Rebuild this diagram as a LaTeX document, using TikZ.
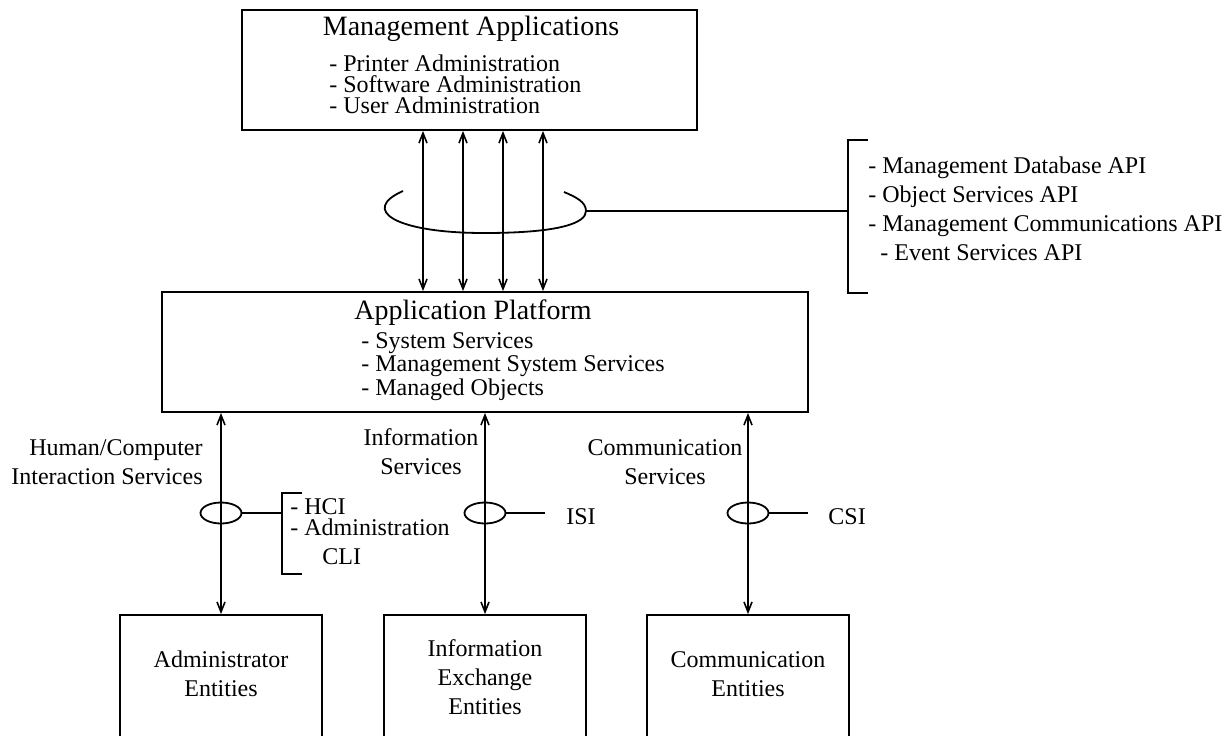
\documentclass[tikz,border=0pt]{standalone}
\usepackage{fontspec}
\setmainfont{Liberation Serif}
\usetikzlibrary{arrows.meta,shapes,positioning}

\begin{document}
\begin{tikzpicture}[
        x=0.5pt, y=-0.5pt,
        box/.style={rectangle, draw=black, line width=0.9pt, inner sep=0pt},
        arrow/.style={{Straight Barb[length=5pt,width=4pt]}-{Straight Barb[length=5pt,width=4pt]}, line width=0.8pt},
        line/.style={line width=0.9pt},
        ring/.style={ellipse, draw=black, line width=0.9pt, minimum width=20.5pt, minimum height=10.5pt, inner sep=0pt},
        title/.style={font=\fontsize{14}{17}\selectfont, inner sep=0pt},
        label/.style={font=\fontsize{12}{14.5}\selectfont, align=center, inner sep=0pt},
        items/.style={font=\fontsize{12}{10.5}\selectfont, align=left, anchor=west, inner sep=0pt}
    ]

    % Page size of the reference, bottom boxes run off the edge
    \useasboundingbox (0,0) rectangle (1232,735);
    \clip (0,0) rectangle (1232,735);

    % Management Applications (top)
    \node[box, minimum width=227.5pt, minimum height=60pt] (mgmt_apps) at (469.5,70) {};
    \node[title] (mgmt_title) at (471,29) {Management Applications};
    \node[items] (mgmt_items) at (329,84) {- Printer Administration\\- Software Administration\\- User Administration};

    % Application Platform (middle)
    \node[box, minimum width=323pt, minimum height=60pt] (app_platform) at (485,352) {};
    \node[title] (app_title) at (473,313) {Application Platform};
    \node[items] (app_items) at (361,367) {- System Services\\- Management System Services\\- Managed Objects};

    % Entities (bottom)
    \node[box, minimum width=101pt, minimum height=65pt] (admin) at (221,680) {};
    \node[box, minimum width=101pt, minimum height=65pt] (info) at (485,680) {};
    \node[box, minimum width=101pt, minimum height=65pt] (comm) at (748,680) {};
    \node[label] (admin_text) at (221,674) {Administrator\\Entities};
    \node[label] (info_text) at (485,677) {Information\\Exchange\\Entities};
    \node[label] (comm_text) at (748,674) {Communication\\Entities};

    % APIs between applications and platform
    \foreach \x in {423,463,503,543}
        \draw[arrow] (\x,0 |- mgmt_apps.south) -- (\x,0 |- app_platform.north);
    \coordinate (api_join) at (586,211);
    \coordinate (api_bracket) at (848,211);
    \draw[line] (403,191) .. controls (360,210) and (395,233) .. (484,233)
        .. controls (560,233) and (586,223) .. (api_join)
        .. controls (586,202) and (576,197) .. (564,192);
    \draw[line] (api_join) -- (api_bracket);
    \draw[line] (868,140) -- (848,140) -- (848,293) -- (868,293);
    \node[items, font=\fontsize{12}{14.5}\selectfont] (api_list) at (868,209) {- Management Database API\\- Object Services API\\- Management Communications API\\\hspace{6pt}- Event Services API};

    % Services between platform and entities
    \draw[arrow] (admin.north |- app_platform.south) -- (admin.north);
    \draw[arrow] (info.north |- app_platform.south) -- (info.north);
    \draw[arrow] (comm.north |- app_platform.south) -- (comm.north);

    \node[label, align=right, anchor=east] (hci_label) at (203,462) {Human/Computer\\Interaction Services};
    \node[label] (info_label) at (421,452) {Information\\Services};
    \node[label] (comm_label) at (665,462) {Communication\\Services};

    % Interface rings
    \node[ring] (hci_ring) at (221,513) {};
    \node[ring] (isi_ring) at (485,513) {};
    \node[ring] (csi_ring) at (748,513) {};

    % HCI interface
    \coordinate (hci_bracket) at (282,513);
    \draw[line] (hci_ring.east) -- (hci_bracket);
    \draw[line] (302,493) -- (282,493) -- (282,574) -- (302,574);
    \node[items] (hci_items) at (290,517) {- HCI\\- Administration};
    \node[label, anchor=west] (cli) at (322,557) {CLI};

    % ISI and CSI
    \node[label, anchor=west] (isi) at (566,517) {ISI};
    \node[label, anchor=west] (csi) at (828,517) {CSI};
    \coordinate (isi_end) at (545,513);
    \coordinate (csi_end) at (808,513);
    \draw[line] (isi_ring.east) -- (isi_end);
    \draw[line] (csi_ring.east) -- (csi_end);

\end{tikzpicture}
\end{document}
